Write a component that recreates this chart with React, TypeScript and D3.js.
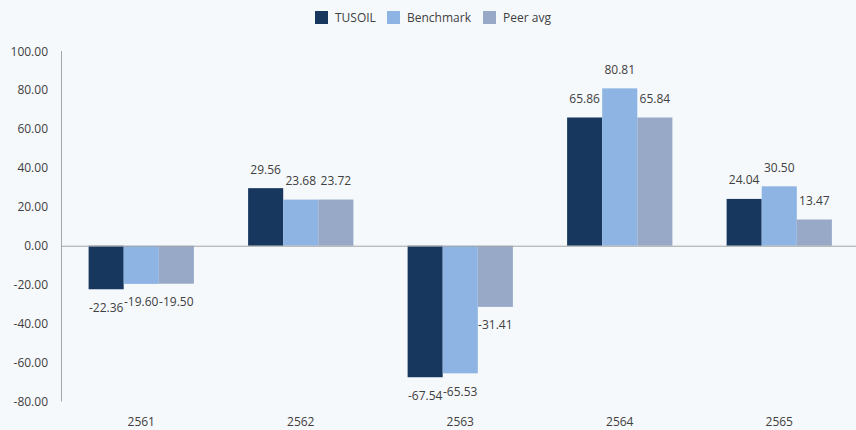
import React from "react";
import * as d3 from "d3";

const years = ["2561", "2562", "2563", "2564", "2565"];
const seriesNames = ["TUSOIL", "Benchmark", "Peer avg"];
const tusoil = [-22.36, 29.56, -67.54, 65.86, 24.04];
const benchmark = [-19.6, 23.68, -65.53, 80.81, 30.5];
const peerAvg = [-19.5, 23.72, -31.41, 65.84, 13.47];
const yTicks = [-80, -60, -40, -20, 0, 20, 40, 60, 80, 100];
const colors = ["#17375e", "#8db4e2", "#97a9c6"];

const width = 856;
const height = 430;
const margin = { left: 61.5, right: -3, top: 51, bottom: 28 };
const font = "'Open Sans', sans-serif";
const textColor = "#404040";

export default function App() {
    const series = [tusoil, benchmark, peerAvg];

    const x0 = d3
        .scaleBand()
        .domain(years)
        .range([margin.left, width - margin.right])
        .paddingInner(0.34)
        .paddingOuter(0.17);
    const x1 = d3
        .scaleBand()
        .domain(seriesNames)
        .range([0, x0.bandwidth()]);
    const y = d3
        .scaleLinear()
        .domain([-80, 100])
        .range([height - margin.bottom - 0.5, margin.top]);

    const plotLeft = margin.left;

    return (
        <div style={{ position: "fixed", left: 0, top: 0 }}>
            <svg width={width} height={height} style={{ display: "block", background: "#f6f9fc" }}>
                {/* legend */}
                <g fontFamily={font} fontSize={12} fill={textColor}>
                    {seriesNames.map((name, i) => {
                        const lx = [315, 387, 483][i];
                        return (
                            <g key={name}>
                                <rect x={lx} y={11} width={13} height={13} fill={colors[i]} />
                                <text x={lx + 20} y={22}>{name}</text>
                            </g>
                        );
                    })}
                </g>

                {/* y axis labels */}
                <g fontFamily={font} fontSize={12} fill={textColor}>
                    {yTicks.map((t) => (
                        <text key={t} x={48} y={y(t)} textAnchor="end" dominantBaseline="central">
                            {t.toFixed(2)}
                        </text>
                    ))}
                </g>

                {/* bars */}
                {years.map((yr, ci) => (
                    <g key={yr} transform={`translate(${x0(yr)},0)`}>
                        {series.map((vals, si) => {
                            const v = vals[ci];
                            const bx = x1(seriesNames[si]) as number;
                            const top = y(Math.max(0, v));
                            const h = Math.abs(y(v) - y(0));
                            return (
                                <g key={si}>
                                    <rect x={bx} y={top} width={x1.bandwidth()} height={h} fill={colors[si]} />
                                    <text
                                        x={bx + x1.bandwidth() / 2}
                                        y={v >= 0 ? y(v) - 19 : y(v) + 18}
                                        textAnchor="middle"
                                        dominantBaseline="central"
                                        fontFamily={font}
                                        fontSize={12}
                                        fill={textColor}
                                    >
                                        {v.toFixed(2)}
                                    </text>
                                </g>
                            );
                        })}
                    </g>
                ))}

                {/* axis lines */}
                <line x1={plotLeft} x2={plotLeft} y1={y(100)} y2={y(-80)} stroke="#a6a6a6" strokeWidth={1} />
                <line x1={plotLeft} x2={width} y1={y(0) + 0.5} y2={y(0) + 0.5} stroke="#a6a6a6" strokeWidth={1} />

                {/* x labels */}
                <g fontFamily={font} fontSize={12} fill={textColor}>
                    {years.map((yr) => (
                        <text
                            key={yr}
                            x={(x0(yr) as number) + x0.bandwidth() / 2}
                            y={421}
                            textAnchor="middle"
                            dominantBaseline="central"
                        >
                            {yr}
                        </text>
                    ))}
                </g>
            </svg>
        </div>
    );
}
